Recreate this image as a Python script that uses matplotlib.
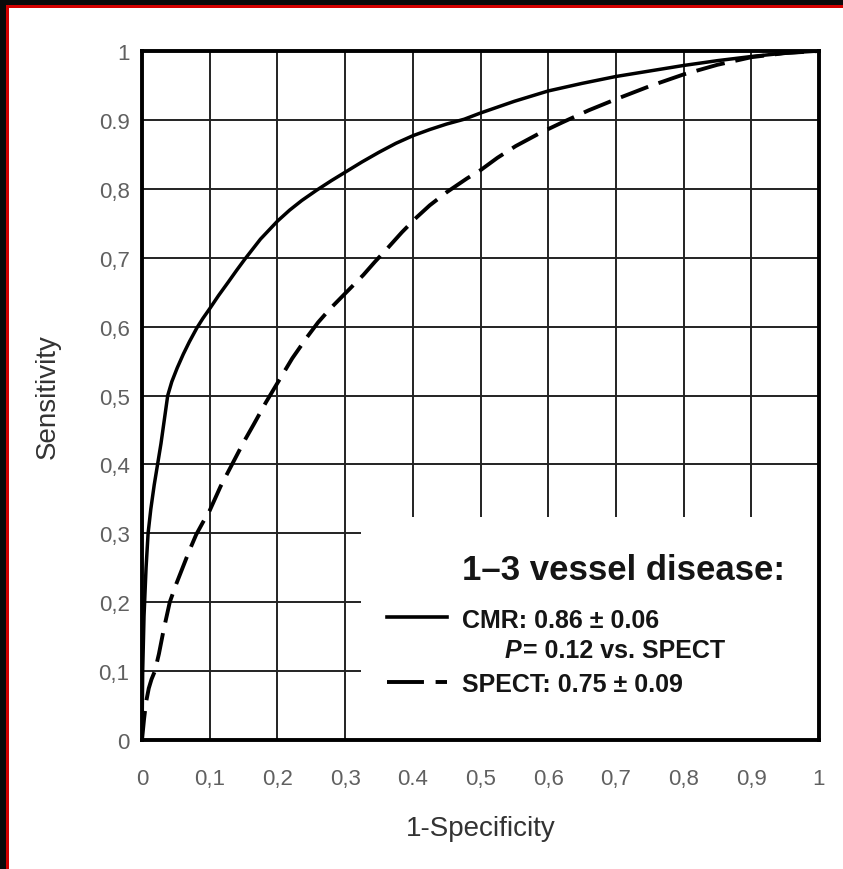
import matplotlib
matplotlib.use("Agg")
import matplotlib.pyplot as plt
from matplotlib.patches import Rectangle
from matplotlib.lines import Line2D

plt.rcParams['font.family'] = ['Liberation Sans', 'DejaVu Sans']

# ROC curves: false positive rate (1-specificity) vs sensitivity
cmr_fpr = [0, 0.001, 0.003, 0.006, 0.009, 0.013, 0.018, 0.023, 0.028, 0.033, 0.038,
           0.044, 0.052, 0.061, 0.07, 0.081, 0.09, 0.1, 0.113, 0.127, 0.14, 0.152,
           0.175, 0.2, 0.218, 0.236, 0.258, 0.28, 0.3, 0.325, 0.35, 0.375, 0.4, 0.425,
           0.45, 0.476, 0.5, 0.55, 0.6, 0.65, 0.7, 0.75, 0.8, 0.85, 0.9, 0.95, 1.0]
cmr_tpr = [0, 0.1, 0.18, 0.25, 0.3, 0.335, 0.37, 0.4, 0.43, 0.465, 0.5,
           0.52, 0.54, 0.56, 0.578, 0.598, 0.612, 0.626, 0.645, 0.664, 0.682, 0.698,
           0.727, 0.753, 0.769, 0.783, 0.798, 0.812, 0.824, 0.839, 0.853, 0.866, 0.877, 0.886,
           0.894, 0.901, 0.91, 0.927, 0.942, 0.953, 0.963, 0.971, 0.979, 0.986, 0.992, 0.997, 1.0]

spect_fpr = [0, 0.003, 0.006, 0.01, 0.014, 0.019, 0.025, 0.032, 0.041, 0.05, 0.06,
             0.07, 0.08, 0.09, 0.1, 0.116, 0.133, 0.15, 0.165, 0.183, 0.2, 0.222,
             0.244, 0.26, 0.277, 0.3, 0.327, 0.344, 0.362, 0.384, 0.405, 0.425, 0.45,
             0.48, 0.5, 0.525, 0.552, 0.588, 0.62, 0.66, 0.7, 0.75, 0.8, 0.85, 0.9,
             0.95, 1.0]
spect_tpr = [0, 0.03, 0.055, 0.075, 0.088, 0.1, 0.125, 0.16, 0.2, 0.225, 0.25,
             0.275, 0.298, 0.316, 0.333, 0.368, 0.4, 0.432, 0.458, 0.49, 0.518, 0.554,
             0.585, 0.606, 0.625, 0.648, 0.675, 0.694, 0.713, 0.737, 0.758, 0.776, 0.795,
             0.815, 0.827, 0.845, 0.862, 0.881, 0.896, 0.914, 0.93, 0.949, 0.966, 0.98,
             0.991, 0.997, 1.0]

tick_values = [0, 0.1, 0.2, 0.3, 0.4, 0.5, 0.6, 0.7, 0.8, 0.9, 1.0]
x_tick_labels = ['0', '0,1', '0,2', '0,3', '0.4', '0,5', '0,6', '0,7', '0,8', '0,9', '1']
y_tick_labels = ['0', '0,1', '0,2', '0,3', '0,4', '0,5', '0,6', '0,7', '0,8', '0.9', '1']

legend_title = '1\u20133 vessel disease:'
cmr_label = 'CMR: 0.86 \u00b1 0.06'
p_label = '= 0.12 vs. SPECT'
spect_label = 'SPECT: 0.75 \u00b1 0.09'

W, H = 843, 870
fig = plt.figure(figsize=(W / 100, H / 100), dpi=100)
fig.patch.set_facecolor('white')

ax_l, ax_r, ax_t, ax_b = 142, 819, 52, 741
ax = fig.add_axes([ax_l / W, (H - ax_b) / H, (ax_r - ax_l) / W, (ax_b - ax_t) / H])
ax.set_xlim(0, 1)
ax.set_ylim(0, 1)
ax.set_axisbelow(True)

ax.set_xticks(tick_values)
ax.set_yticks(tick_values)
ax.set_xticklabels(x_tick_labels)
ax.set_yticklabels(y_tick_labels)
ax.tick_params(axis='both', length=0, labelsize=16, labelcolor='#606060')
ax.tick_params(axis='x', pad=20)
ax.tick_params(axis='y', pad=9)

ax.grid(True, color='#222222', linewidth=1.4)
for s in ax.spines.values():
    s.set_linewidth(2.8)
    s.set_color('black')

# blank panel behind the legend text (hides the grid there)
ax.add_patch(Rectangle((0.323, 0), 0.677, 0.324, transform=ax.transAxes,
                       facecolor='white', edgecolor='none', zorder=1))

ax.plot(cmr_fpr, cmr_tpr, color='black', linewidth=2.5, zorder=3,
        solid_joinstyle='round', solid_capstyle='round')
ax.plot(spect_fpr, spect_tpr, color='black', linewidth=2.8, zorder=3,
        dashes=(7.5, 2.8), dash_joinstyle='round')

ax.set_xlabel('1-Specificity', fontsize=20, color='#333333', va='center')
ax.xaxis.set_label_coords(0.5, -0.128)
ax.set_ylabel('Sensitivity', fontsize=20, color='#333333', va='center')
ax.yaxis.set_label_coords(-0.139, 0.5)

# legend block
tx = 0.4727
ax.text(tx, 0.2337, legend_title, transform=ax.transAxes, fontsize=25,
        fontweight='bold', color='#151515', ha='left', va='baseline', zorder=4)
ax.text(tx, 0.164, cmr_label, transform=ax.transAxes, fontsize=18,
        fontweight='bold', color='#151515', ha='left', va='baseline', zorder=4)
ax.text(0.5362, 0.1205, 'P', transform=ax.transAxes, fontsize=18,
        fontweight='bold', fontstyle='italic', color='#151515',
        ha='left', va='baseline', zorder=4)
ax.text(0.5362 + 0.026, 0.1205, p_label, transform=ax.transAxes, fontsize=18,
        fontweight='bold', color='#151515', ha='left', va='baseline', zorder=4)
ax.text(tx, 0.0711, spect_label, transform=ax.transAxes, fontsize=18,
        fontweight='bold', color='#151515', ha='left', va='baseline', zorder=4)

ax.add_line(Line2D([0.362, 0.4505], [0.1785, 0.1785], transform=ax.transAxes,
                   color='black', linewidth=2.6, zorder=4))
ax.add_line(Line2D([0.362, 0.4505], [0.0842, 0.0842], transform=ax.transAxes,
                   color='black', linewidth=2.8, dashes=(9.5, 3.0), zorder=4))

# frame edges along the top and left of the canvas
fig.add_artist(Rectangle((0, 1 - 6 / H), 1, 6 / H, transform=fig.transFigure,
                         facecolor='#0a0a0a', edgecolor='none'))
fig.add_artist(Rectangle((0, 0), 6 / W, 1, transform=fig.transFigure,
                         facecolor='#0a0a0a', edgecolor='none'))
fig.add_artist(Rectangle((6 / W, 1 - 8.5 / H), 1, 2.5 / H, transform=fig.transFigure,
                         facecolor='#d40000', edgecolor='none'))
fig.add_artist(Rectangle((6 / W, 0), 2.5 / W, 1 - 6 / H, transform=fig.transFigure,
                         facecolor='#d40000', edgecolor='none'))

fig.savefig('out.png', dpi=100)
